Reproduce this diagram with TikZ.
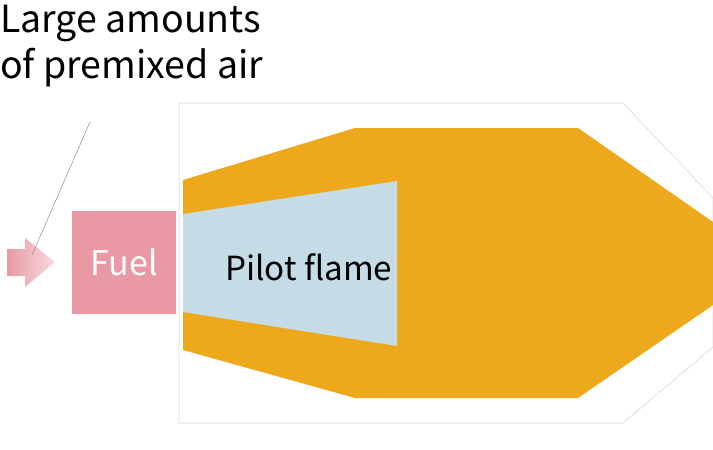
\documentclass[tikz,border=0pt]{standalone}
\usepackage{fontspec}
\setmainfont{Noto Sans CJK JP}
\usetikzlibrary{positioning}
\definecolor{flameorange}{HTML}{EDA81B}
\definecolor{pilotblue}{HTML}{C5DCE7}
\definecolor{fuelpink}{HTML}{E899A3}
\definecolor{casegray}{HTML}{E4E4E4}
\definecolor{leadergray}{HTML}{8A8A8A}
\tikzset{
  casing/.style={draw=casegray, line width=1pt},
  fuelbox/.style={fill=fuelpink, minimum width=104pt, minimum height=103pt, inner sep=0pt, text=white, font=\fontsize{34}{40}\selectfont},
  bigtext/.style={inner sep=0pt, font=\fontsize{37.5}{45}\selectfont, anchor=base west},
  leader/.style={draw=leadergray, line width=0.5pt}
}
\begin{document}
\begin{tikzpicture}[x=1pt,y=-1pt]
  \useasboundingbox (0,0) rectangle (713,450);
  % burner casing
  \draw[casing] (179,103) -- (623,103) -- (713,198) -- (713,347) -- (623,423) -- (179,423) -- cycle;
  % main flame
  \fill[flameorange] (183,180) -- (355,128) -- (578,128) -- (713,222) -- (713,305) -- (578,398) -- (355,398) -- (183,350) -- cycle;
  % pilot flame
  \fill[pilotblue] (183,214) -- (397,181) -- (397,346) -- (183,312) -- cycle;
  \node[inner sep=0pt, anchor=base west, font=\fontsize{33.2}{40}\selectfont] (pilot) at (225,280) {Pilot flame};
  % fuel
  \node[fuelbox] (fuel) at (124,262) {Fuel};
  % air inlet arrow
  \shade[left color=fuelpink, right color=fuelpink!35] (7,249) -- (25,249) -- (25,238) -- (55,262) -- (25,287) -- (25,276) -- (7,276) -- cycle;
  % label
  \node[bigtext] (airtop) at (0,32) {Large amounts};
  \node[bigtext] (airbot) at (0,78) {of premixed air};
  \coordinate (leadtop) at (90,122);
  \coordinate (leadend) at (32,255);
  \draw[leader] (leadtop) -- (leadend);
\end{tikzpicture}
\end{document}
